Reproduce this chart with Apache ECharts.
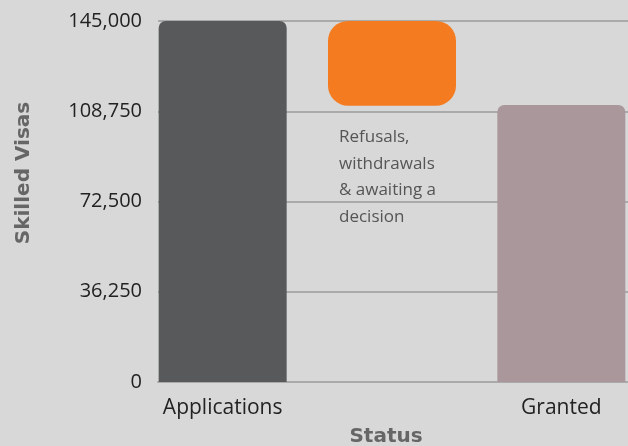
<!DOCTYPE html>
<html>
<head>
<meta charset="utf-8">
<script src="https://cdn.jsdelivr.net/npm/echarts@6/dist/echarts.min.js"></script>
<style>
html,body{margin:0;padding:0;background:#d8d8d8;}
#c{width:628px;height:446px;}
</style>
</head>
<body>
<div id="c"></div>
<script>
const categories = ['Applications', '', 'Granted'];
const applications = 145000;
const granted = 111300;
const floatLow = 111000;   // bottom of orange block
const floatHigh = 145400;  // top of orange block
const yTicks = [0, 36250, 72500, 108750, 145000];
const annotation = ['Refusals,', 'withdrawals', '& awaiting a', 'decision'];

const FONT = '"Open Sans"';
const TITLE_FONT = '"DejaVu Sans"';
const chart = echarts.init(document.getElementById('c'));

const baseData = [0, floatLow, 0];
const mainData = [
  { value: applications, itemStyle: { color: '#58595b', borderRadius: [7, 7, 0, 0] } },
  { value: floatHigh - floatLow, itemStyle: { color: '#f47b20', borderRadius: 20 } },
  { value: granted, itemStyle: { color: '#a9979b', borderRadius: [7, 7, 0, 0] } }
];

chart.setOption({
  backgroundColor: '#d8d8d8',
  animation: false,
  grid: [
    { left: 158, right: 0, top: 21, bottom: 64, containLabel: false, outerBoundsMode: 'none' },
    { left: 138, width: 508, top: 21, bottom: 64, containLabel: false, outerBoundsMode: 'none' }
  ],
  xAxis: [
    { gridIndex: 0, type: 'category', data: categories,
      axisLine: { show: true, lineStyle: { color: '#aaaaaa', width: 2 } },
      axisTick: { show: false }, axisLabel: { show: false } },
    { gridIndex: 1, type: 'category', data: categories,
      axisLine: { show: false }, axisTick: { show: false },
      axisLabel: { show: true, color: '#222', fontFamily: FONT, fontSize: 21, margin: 16 } }
  ],
  yAxis: [
    { gridIndex: 0, type: 'value', min: 0, max: yTicks[yTicks.length - 1], interval: yTicks[1] - yTicks[0],
      axisLine: { show: false }, axisTick: { show: false },
      axisLabel: { color: '#222', fontFamily: FONT, fontSize: 20, margin: 16,
        formatter: v => v.toLocaleString('en-US') },
      splitLine: { show: true, lineStyle: { color: '#aaaaaa', width: 2 } } },
    { gridIndex: 1, type: 'value', min: 0, max: yTicks[yTicks.length - 1], show: false,
      splitLine: { show: false } }
  ],
  series: [
    { type: 'bar', xAxisIndex: 1, yAxisIndex: 1, stack: 's', barWidth: 128,
      itemStyle: { color: 'transparent' }, data: baseData, silent: true },
    { type: 'bar', xAxisIndex: 1, yAxisIndex: 1, stack: 's', barWidth: 128,
      data: mainData }
  ],
  graphic: [
    { type: 'text', left: 339, top: 124,
      style: { text: annotation.join('\n'), fill: '#555', font: '17px ' + FONT, lineHeight: 26.5 } },
    { type: 'text', x: 24, y: 173, rotation: Math.PI / 2,
      style: { text: 'Skilled Visas', fill: '#666', font: 'bold 20px ' + TITLE_FONT, align: 'center', verticalAlign: 'middle' } },
    { type: 'text', x: 386, y: 437,
      style: { text: 'Status', fill: '#666', font: 'bold 20px ' + TITLE_FONT, align: 'center', verticalAlign: 'middle' } }
  ]
});
</script>
</body>
</html>
